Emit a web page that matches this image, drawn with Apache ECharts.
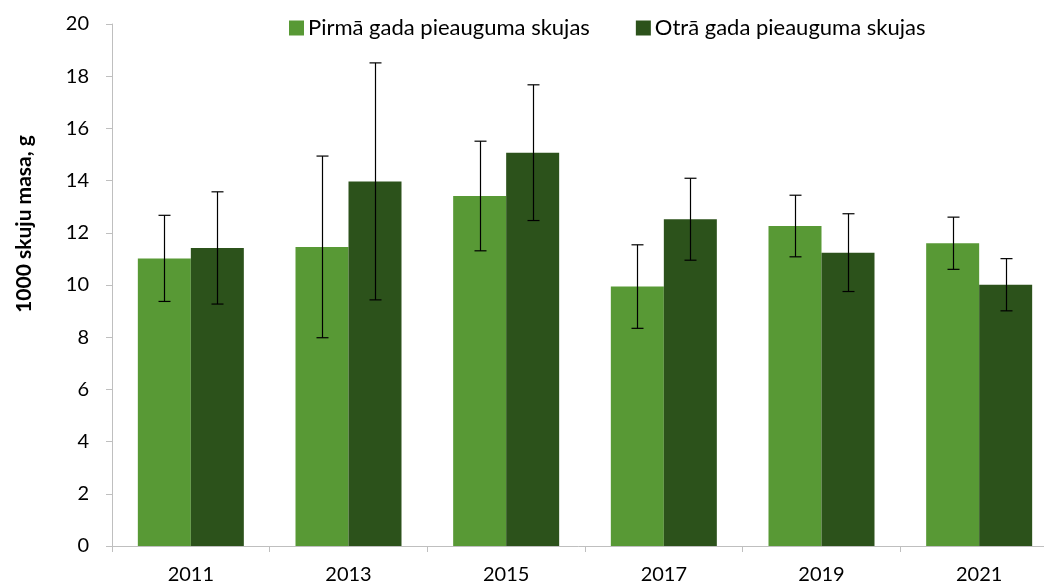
<!DOCTYPE html>
<html>
<head>
    <meta charset="utf-8" />
    <title></title>
    <script src="https://cdn.jsdelivr.net/npm/echarts@6/dist/echarts.min.js"></script>
    <style>
        html, body {
            width: 100%;
            height: 100%;
            margin: 0px;
            padding: 0px;
            background: #fff;
        }
        #main {
            width: 1044px;
            height: 586px;
        }
    </style>
</head>
<body>
    <div id="main"></div>
<script type="text/javascript">
    var years = ['2011', '2013', '2015', '2017', '2019', '2021'];
    var firstYear = [11.02, 11.46, 13.41, 9.94, 12.26, 11.6];
    var firstYearSd = [1.65, 3.48, 2.1, 1.6, 1.18, 1.0];
    var secondYear = [11.42, 13.97, 15.07, 12.52, 11.24, 10.01];
    var secondYearSd = [2.15, 4.54, 2.6, 1.57, 1.49, 1.0];
    var names = ['Pirmā gada pieauguma skujas', 'Otrā gada pieauguma skujas'];
    var yTitle = '1000 skuju masa, g';

    var font = 'Lato, "Open Sans", sans-serif';
    var barW = 53;

    // error bar data: [categoryIndex, low, high]
    function errData(vals, sd) {
        return vals.map(function (v, i) {
            return [i, v - sd[i], v + sd[i]];
        });
    }

    function errRender(offset) {
        return function (params, api) {
            var lo = api.coord([api.value(0), api.value(1)]);
            var hi = api.coord([api.value(0), api.value(2)]);
            var x = Math.round(lo[0] + offset) + 0.5;
            var cap = 6;
            var st = { stroke: '#000', lineWidth: 1.2 };
            return {
                type: 'group',
                children: [
                    { type: 'line', shape: { x1: x, y1: hi[1], x2: x, y2: lo[1] }, style: st },
                    { type: 'line', shape: { x1: x - cap, y1: hi[1], x2: x + cap, y2: hi[1] }, style: st },
                    { type: 'line', shape: { x1: x - cap, y1: lo[1], x2: x + cap, y2: lo[1] }, style: st }
                ]
            };
        };
    }

    var myChart = echarts.init(document.getElementById('main'));
    myChart.setOption({
        animation: false,
        textStyle: { fontFamily: font },
        legend: {
            top: 12,
            left: 284,
            itemWidth: 15,
            itemHeight: 15,
            itemGap: 46,
            icon: 'rect',
            data: names,
            textStyle: { fontSize: 22, color: '#000', fontFamily: font, padding: [0, 0, 0, -1] }
        },
        graphic: [{
            type: 'text',
            x: 24,
            y: 224,
            rotation: Math.PI / 2,
            style: {
                text: yTitle,
                fontSize: 21,
                fontWeight: 'bold',
                fontFamily: font,
                fill: '#000',
                align: 'center',
                verticalAlign: 'middle'
            }
        }],
        grid: { left: 112, right: -14, top: 24, bottom: 40, outerBoundsMode: 'none' },
        xAxis: {
            type: 'category',
            data: years,
            axisLine: { lineStyle: { color: '#BFBFBF', width: 1 } },
            axisTick: { show: true, length: 6, lineStyle: { color: '#BFBFBF' } },
            axisLabel: { fontSize: 20, color: '#000', margin: 19, fontFamily: font }
        },
        yAxis: {
            type: 'value',
            min: 0,
            max: 20,
            interval: 2,
            splitLine: { show: false },
            axisLine: { show: true, lineStyle: { color: '#BFBFBF', width: 1 } },
            axisTick: { show: true, length: 6, lineStyle: { color: '#BFBFBF' } },
            axisLabel: { fontSize: 20, color: '#000', margin: 23, fontFamily: font }
        },
        series: [
            {
                name: names[0],
                type: 'bar',
                data: firstYear,
                barWidth: barW,
                barGap: '0%',
                itemStyle: { color: '#589935' }
            },
            {
                name: names[1],
                type: 'bar',
                data: secondYear,
                barWidth: barW,
                barGap: '0%',
                itemStyle: { color: '#2C521B' }
            },
            {
                type: 'custom',
                renderItem: errRender(-barW / 2),
                data: errData(firstYear, firstYearSd),
                encode: { x: 0, y: [1, 2] },
                z: 10
            },
            {
                type: 'custom',
                renderItem: errRender(barW / 2),
                data: errData(secondYear, secondYearSd),
                encode: { x: 0, y: [1, 2] },
                z: 10
            }
        ]
    });
</script>
</body>
</html>
